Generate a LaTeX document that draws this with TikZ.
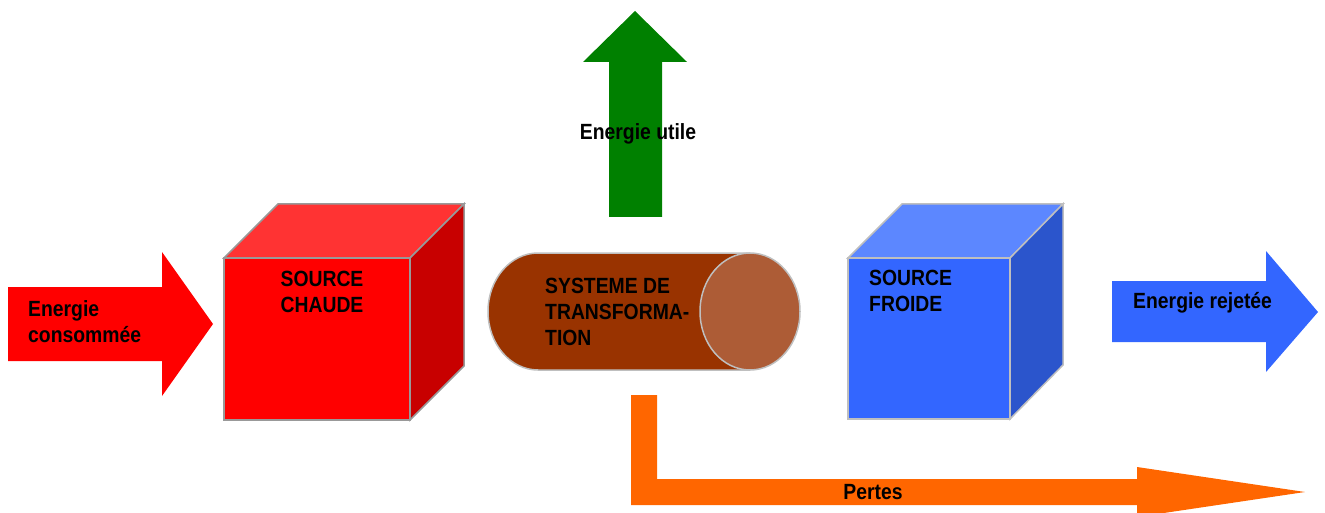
\documentclass[tikz,border=0pt]{standalone}
\usepackage{fontspec}
\setmainfont{Liberation Sans}[FakeStretch=0.88]
\begin{document}
\begin{tikzpicture}[x=1pt,y=-1pt,
  lbl/.style={inner sep=0pt,font=\fontsize{22}{26}\selectfont\bfseries,text=black},
  edge/.style={line width=1.5pt,line join=miter}]
\definecolor{hotfront}{HTML}{FF0000}
\definecolor{hottop}{HTML}{FF3333}
\definecolor{hotside}{HTML}{C80000}
\definecolor{coldfront}{HTML}{3366FF}
\definecolor{coldtop}{HTML}{5C87FF}
\definecolor{coldside}{HTML}{2B55CC}
\definecolor{tubebody}{HTML}{993300}
\definecolor{tubeend}{HTML}{AD5C36}
\definecolor{useful}{HTML}{008000}
\definecolor{loss}{HTML}{FF6600}
\useasboundingbox (0,0) rectangle (1325,513);

% input energy arrow
\fill[hotfront] (8,287) -- (162,287) -- (162,252) -- (213,324) -- (162,396) -- (162,361) -- (8,361) -- cycle;
\node[lbl,anchor=north west,align=left] (consumed) at (28,300) {Energie\\consommée};

% hot source cube
\filldraw[edge,draw=black!40,fill=hottop] (224,258) -- (278,204) -- (464,204) -- (410,258) -- cycle;
\filldraw[edge,draw=black!40,fill=hotside] (410,258) -- (464,204) -- (464,366) -- (410,420) -- cycle;
\filldraw[edge,draw=black!40,fill=hotfront] (224,258) rectangle (410,420);
\node[lbl,anchor=north,align=center] (hot) at (322,271) {SOURCE\\CHAUDE};

% transformation system (cylinder)
\path[edge,draw=black!25,fill=tubebody] (750,253) -- (538,253)
  arc[start angle=270,end angle=90,x radius=50,y radius=58.5] -- (750,370);
\filldraw[edge,draw=black!25,fill=tubeend] (750,311.5) ellipse[x radius=50,y radius=58.5];
\node[lbl,anchor=north west,align=left] (system) at (545,278) {SYSTEME DE\\TRANSFORMA-\\TION};

% useful energy arrow
\fill[useful] (609,217) -- (609,62) -- (583,62) -- (635,11) -- (687,62) -- (662,62) -- (662,217) -- cycle;
\node[lbl,anchor=base] (useful) at (638,140) {Energie utile};

% cold source cube
\filldraw[edge,draw=black!25,fill=coldtop] (848,258) -- (902,204) -- (1063,204) -- (1010,258) -- cycle;
\filldraw[edge,draw=black!25,fill=coldside] (1010,258) -- (1063,204) -- (1063,365) -- (1010,419) -- cycle;
\filldraw[edge,draw=black!25,fill=coldfront] (848,258) rectangle (1010,419);
\node[lbl,anchor=north west,align=left] (cold) at (869,270) {SOURCE\\FROIDE};

% rejected energy arrow
\fill[coldfront] (1112,281) -- (1266,281) -- (1266,251) -- (1318,312) -- (1266,372) -- (1266,342) -- (1112,342) -- cycle;
\node[lbl,anchor=base west] (rejected) at (1133,308) {Energie rejetée};

% losses arrow
\fill[loss] (631,395) -- (657,395) -- (657,479) -- (1137,479) -- (1137,467) -- (1305,492)
  -- (1137,517) -- (1137,505) -- (631,505) -- cycle;
\node[lbl,anchor=base] (losses) at (873,499) {Pertes};
\end{tikzpicture}
\end{document}
